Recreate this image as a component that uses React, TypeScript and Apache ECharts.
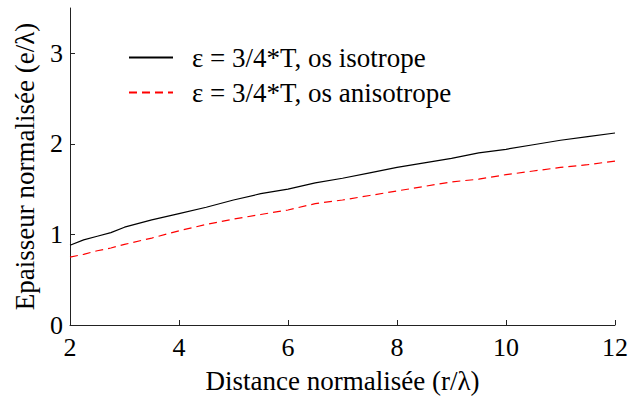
import React, { useEffect, useRef } from "react";
import * as echarts from "echarts";

const xValues = [2, 2.25, 2.5, 2.75, 3, 3.5, 4, 4.5, 5, 5.5, 6, 6.5, 7, 7.5, 8, 8.5, 9, 9.5, 10, 10.5, 11, 11.5, 12];
const isotrope = [0.88, 0.94, 0.98, 1.02, 1.08, 1.16, 1.23, 1.30, 1.38, 1.45, 1.50, 1.57, 1.62, 1.68, 1.74, 1.79, 1.84, 1.90, 1.94, 1.99, 2.04, 2.08, 2.12];
const anisotrope = [0.75, 0.78, 0.82, 0.85, 0.89, 0.96, 1.04, 1.11, 1.17, 1.22, 1.27, 1.34, 1.38, 1.43, 1.48, 1.53, 1.58, 1.61, 1.66, 1.70, 1.74, 1.77, 1.81];
const yTicks = [0, 1, 2, 3];
const seriesNames = ["ε = 3/4*T, os isotrope", "ε = 3/4*T, os anisotrope"];
const xTitle = "Distance normalisée (r/λ)";
const yTitle = "Epaisseur normalisée (e/λ)";

const FONT = "'Liberation Serif', 'Times New Roman', serif";

export default function App() {
  const ref = useRef<HTMLDivElement>(null);
  useEffect(() => {
    if (!ref.current) return;
    const chart = echarts.init(ref.current, null, { renderer: "svg" });
    chart.setOption({
      animation: false,
      backgroundColor: "#ffffff",
      textStyle: { fontFamily: FONT, color: "#000" },
      grid: { left: 70, right: 12, top: 8, bottom: 73, containLabel: false },
      legend: {
        orient: "vertical",
        left: 128,
        top: 44,
        padding: 0,
        itemWidth: 44,
        itemHeight: 14,
        itemGap: 8,
        data: seriesNames,
        itemStyle: { opacity: 0 },
        textStyle: { fontFamily: FONT, fontSize: 27, color: "#000", lineHeight: 27, padding: [0, 0, 0, 14] },
      },
      xAxis: {
        type: "value",
        min: 2,
        max: 12,
        interval: 2,
        name: xTitle,
        nameLocation: "middle",
        nameGap: 42,
        nameTextStyle: { fontFamily: FONT, fontSize: 27, color: "#000" },
        axisLine: { show: true, onZero: false, lineStyle: { color: "#222", width: 1 } },
        axisTick: { show: true, inside: true, length: 5, lineStyle: { color: "#222" } },
        axisLabel: { fontFamily: FONT, fontSize: 26, color: "#000", margin: 9 },
        splitLine: { show: false },
      },
      yAxis: {
        type: "value",
        min: 0,
        max: 3.5,
        interval: 1,
        name: yTitle,
        nameLocation: "middle",
        nameGap: 32,
        nameTextStyle: { fontFamily: FONT, fontSize: 27, color: "#000" },
        axisLine: { show: true, lineStyle: { color: "#222", width: 1 } },
        axisTick: { show: true, inside: true, length: 5, customValues: yTicks, lineStyle: { color: "#222" } },
        axisLabel: { fontFamily: FONT, fontSize: 26, color: "#000", margin: 7, customValues: yTicks },
        splitLine: { show: false },
      },
      series: [
        {
          name: seriesNames[0],
          type: "line",
          data: xValues.map((x, i) => [x, isotrope[i]]),
          showSymbol: false,
          symbol: "none",
          lineStyle: { color: "#000", width: 1.2, type: "solid" },
          itemStyle: { color: "#000" },
        },
        {
          name: seriesNames[1],
          type: "line",
          data: xValues.map((x, i) => [x, anisotrope[i]]),
          showSymbol: false,
          symbol: "none",
          lineStyle: { color: "#ff0000", width: 1.2, type: [8, 5] },
          itemStyle: { color: "#ff0000" },
        },
      ],
    });
    return () => chart.dispose();
  }, []);
  return <div ref={ref} style={{ width: 631, height: 399, position: "absolute", left: 0, top: 0 }} />;
}
